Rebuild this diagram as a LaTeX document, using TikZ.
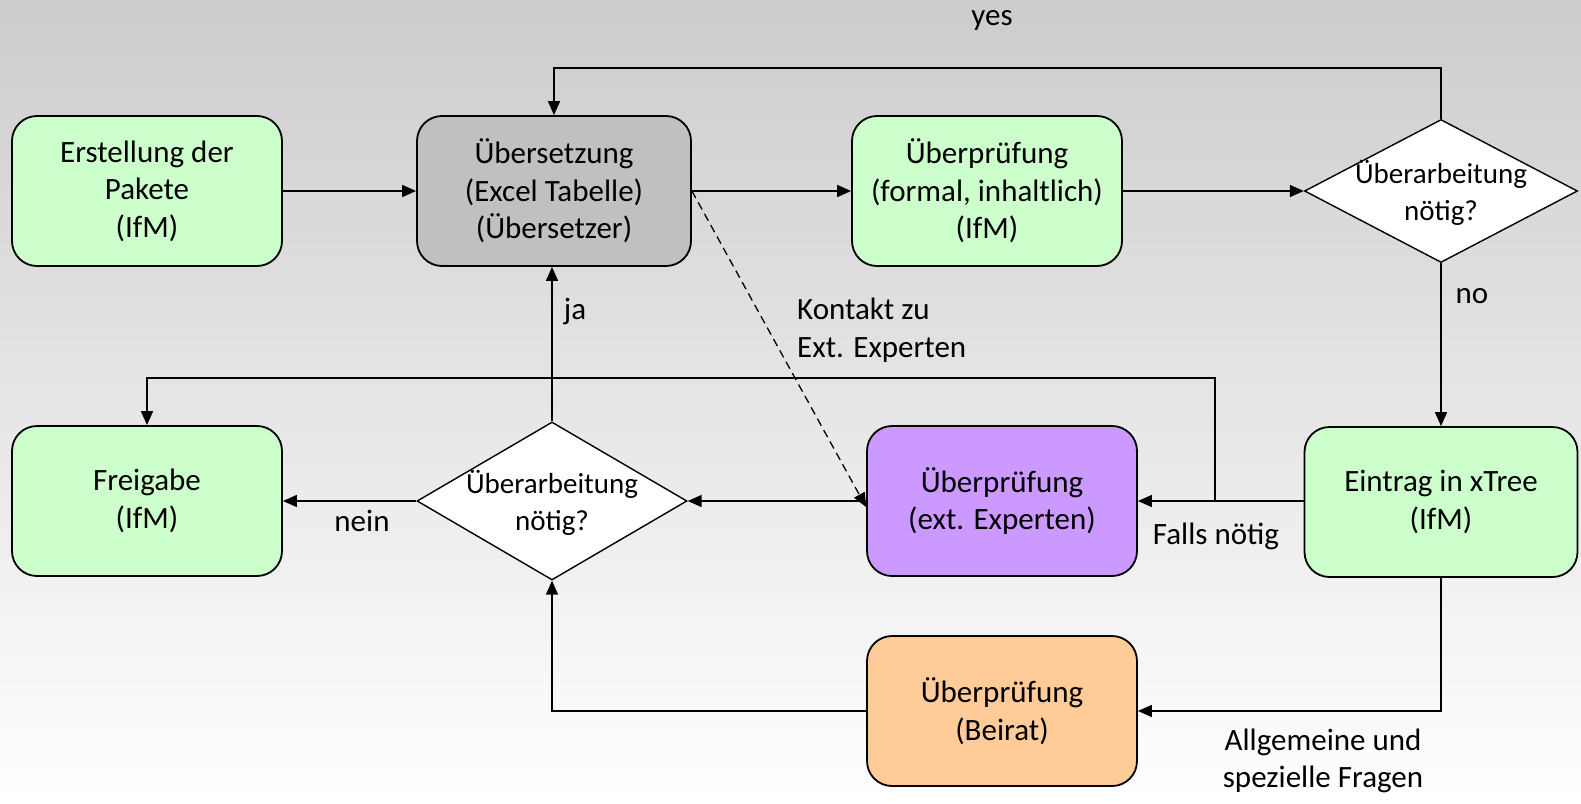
\documentclass[tikz,border=0pt]{standalone}
\usepackage{fontspec}
\setmainfont{Carlito}
\usetikzlibrary{arrows.meta,shapes.geometric}
\definecolor{bgtop}{RGB}{204,204,204}
\definecolor{bgbot}{RGB}{255,255,255}
\definecolor{boxgreen}{RGB}{204,255,204}
\definecolor{boxgray}{RGB}{192,192,192}
\definecolor{boxpurple}{RGB}{204,153,255}
\definecolor{boxorange}{RGB}{255,204,153}
\begin{document}
\begin{tikzpicture}[x=1pt,y=-1pt,
  box/.style={draw, line width=1.8pt, rounded corners=25pt, minimum width=270pt,
    minimum height=150pt, align=center, inner sep=0pt,
    font=\fontsize{31}{37.5}\selectfont},
  dec/.style={diamond, draw, fill=white, line width=1.4pt, minimum width=273pt,
    minimum height=143pt, inner sep=0pt},
  dectext/.style={align=center, inner sep=0pt, font=\fontsize{29}{36.5}\selectfont},
  lbl/.style={inner sep=0pt, font=\fontsize{31}{37.5}\selectfont},
  arr/.style={line width=1.6pt, -{Triangle[length=14pt,width=12pt]}},
  dasharr/.style={line width=1.3pt, dash pattern=on 8pt off 5pt, -{Triangle[length=14pt,width=12pt]}}
]
\useasboundingbox (0,0) rectangle (1581,803);
\shade[top color=bgtop, bottom color=bgbot] (0,0) rectangle (1581,803);

% top row
\node[box, fill=boxgreen] (er) at (147,191) {Erstellung der\\Pakete\\(IfM)};
\node[box, fill=boxgray, minimum width=274pt] (ue) at (554,191) {Übersetzung\\(Excel Tabelle)\\(Übersetzer)};
\node[box, fill=boxgreen] (p1) at (987,191) {Überprüfung\\(formal, inhaltlich)\\(IfM)};
\node[dec] (d1) at (1441,191) {};
\node[dectext] (d1t) at (1441,193) {Überarbeitung\\nötig?};

% bottom rows
\node[box, fill=boxgreen] (fr) at (147,501) {Freigabe\\(IfM)};
\node[dec, minimum width=270pt, minimum height=158pt] (d2) at (552,501) {};
\node[dectext] (d2t) at (552,503) {Überarbeitung\\nötig?};
\node[box, fill=boxpurple] (ex) at (1002,501) {Überprüfung\\(ext. Experten)};
\node[box, fill=boxgreen, minimum width=273pt] (ei) at (1441,502) {Eintrag in xTree\\(IfM)};
\node[box, fill=boxorange] (be) at (1002,711) {Überprüfung\\(Beirat)};

% helper coordinates
\coordinate (yesy) at (0,68);
\coordinate (fry) at (0,378);
\coordinate (br) at (1215,501);

% connectors
\draw[arr] (er.east) -- (ue.west);
\draw[arr] (ue.east) -- (p1.west);
\draw[arr] (p1.east) -- (d1.west);
\draw[arr] (d1.north) |- (ue.north |- yesy) -- (ue.north);
\draw[arr] (d1.south) -- (d1.south |- ei.north);
\draw[arr] (ei.west |- br) -- (ex.east |- br);
\draw[arr] (br) |- (fr.north |- fry) -- (fr.north);
\draw[arr] (ex.west) -- (d2.east);
\draw[arr] (d2.west) -- (fr.east);
\draw[arr] (d2.north) -- (d2.north |- ue.south);
\draw[arr] (ei.south -| d1.south) |- (be.east);
\draw[arr] (be.west) -| (d2.south);
\draw[dasharr] (ue.east) -- ([yshift=-6pt]ex.west);

% labels
\node[lbl] (lyes) at (992,20) {yes};
\node[lbl] (lno) at (1472,296) {no};
\node[lbl] (lja) at (575,311) {ja};
\node[lbl] (lnein) at (362,521) {nein};
\node[lbl] (lfalls) at (1216,536) {Falls nötig};
\node[lbl, align=left, anchor=west] (lkon) at (797,330) {Kontakt zu\\Ext. Experten};
\node[lbl, align=center] (lallg) at (1323,761) {Allgemeine und\\spezielle Fragen};
\end{tikzpicture}
\end{document}
